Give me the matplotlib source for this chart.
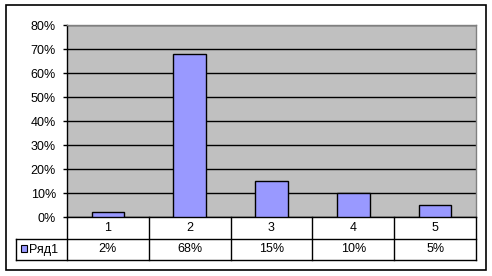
import matplotlib
matplotlib.use("Agg")
import matplotlib.pyplot as plt
from matplotlib.patches import Rectangle
from matplotlib.lines import Line2D

categories = ["1", "2", "3", "4", "5"]
values = [2, 68, 15, 10, 5]
series_name = "Ряд1"
yticks = [0, 10, 20, 30, 40, 50, 60, 70, 80]

plt.rcParams['font.family'] = ['Liberation Sans', 'DejaVu Sans']
FS = 9
plt.rcParams['font.size'] = FS

W, H = 492, 276
fig = plt.figure(figsize=(W / 100, H / 100), dpi=100)

def fx(px):
    return px / W

def fy(py):
    return 1 - py / H

# plot area in pixels
L, R, T, B = 67, 476, 25, 217
ax = fig.add_axes([fx(L), fy(B), fx(R - L), (B - T) / H])
ax.set_facecolor("#C0C0C0")
x = list(range(len(categories)))
ax.bar(x, values, width=0.4, color="#9999FF", edgecolor="black", linewidth=1, zorder=3)
ax.set_xlim(-0.5, len(categories) - 0.5)
ax.set_ylim(0, 80)
ax.set_yticks(yticks)
ax.set_yticklabels([f"{t}%" for t in yticks])
ax.yaxis.grid(True, color="black", linewidth=1)
ax.set_axisbelow(True)
ax.set_xticks([])
ax.tick_params(axis="y", length=3, width=1, pad=5.0, labelsize=FS)
for s in ["top", "right"]:
    ax.spines[s].set_color("#808080")
for s in ["left", "bottom"]:
    ax.spines[s].set_color("black")
for s in ax.spines.values():
    s.set_linewidth(1)

# data table below the axes
row1_bottom, row2_bottom = 239, 260
legend_left = 16
lines = []
lines.append(((legend_left, row1_bottom), (R, row1_bottom)))
lines.append(((legend_left, row2_bottom), (R, row2_bottom)))
lines.append(((legend_left, row1_bottom), (legend_left, row2_bottom)))
colw = (R - L) / len(categories)
for i in range(len(categories) + 1):
    xp = L + i * colw
    lines.append(((xp, B), (xp, row2_bottom)))
for (x0, y0), (x1, y1) in lines:
    fig.add_artist(Line2D([fx(x0), fx(x1)], [fy(y0), fy(y1)], color="black", linewidth=1))

for i, (c, v) in enumerate(zip(categories, values)):
    cx = L + (i + 0.5) * colw
    fig.text(fx(cx), fy((B + row1_bottom) / 2), c, ha="center", va="center", fontsize=FS)
    fig.text(fx(cx), fy((row1_bottom + row2_bottom) / 2), f"{v}%", ha="center", va="center", fontsize=FS)

# legend key
fig.add_artist(Rectangle((fx(21), fy(252)), fx(6), 7 / H, facecolor="#9999FF",
                         edgecolor="black", linewidth=0.8))
fig.text(fx(29), fy((row1_bottom + row2_bottom) / 2), series_name, ha="left", va="center", fontsize=FS)

# outer border
fig.add_artist(Rectangle((fx(5.5), fy(270)), fx(480.5), 265 / H, facecolor="none",
                         edgecolor="black", linewidth=1.2))

fig.savefig("out.png", dpi=100)
